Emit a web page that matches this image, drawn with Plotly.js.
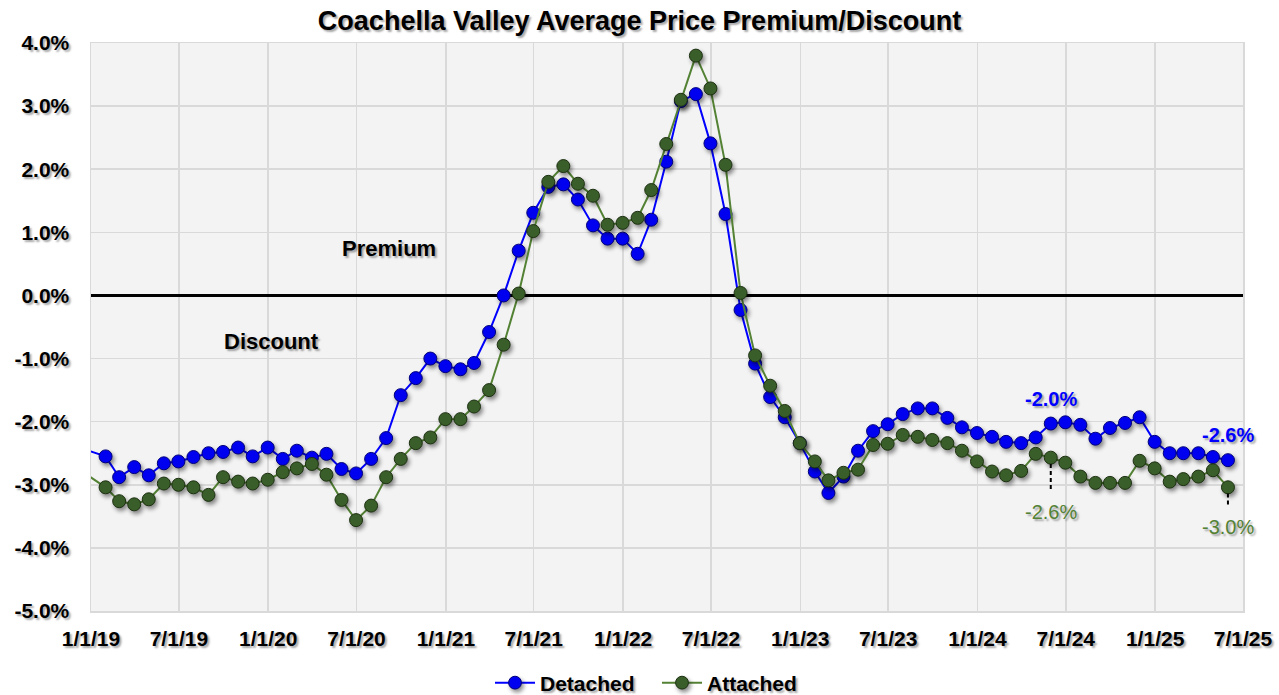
<!DOCTYPE html>
<html>
<head>
<meta charset="utf-8">
<script src="https://cdn.plot.ly/plotly-3.0.1.min.js"></script>
<style>
  html, body { margin: 0; padding: 0; background: #ffffff; }
  #chart { width: 1279px; height: 695px; }
  .scatterlayer .trace .points path,
  .legend .legendpoints path.scatterpts {
    filter: drop-shadow(2px 3px 2px rgba(0,0,0,0.45));
  }
</style>
</head>
<body>
<div id="chart"></div>
<script>
// Month-end observation dates (first one lies just before the axis start and is clipped)
const dates = [
  "2018-12-31",
  "2019-01-31","2019-02-28","2019-03-31","2019-04-30","2019-05-31","2019-06-30",
  "2019-07-31","2019-08-31","2019-09-30","2019-10-31","2019-11-30","2019-12-31",
  "2020-01-31","2020-02-29","2020-03-31","2020-04-30","2020-05-31","2020-06-30",
  "2020-07-31","2020-08-31","2020-09-30","2020-10-31","2020-11-30","2020-12-31",
  "2021-01-31","2021-02-28","2021-03-31","2021-04-30","2021-05-31","2021-06-30",
  "2021-07-31","2021-08-31","2021-09-30","2021-10-31","2021-11-30","2021-12-31",
  "2022-01-31","2022-02-28","2022-03-31","2022-04-30","2022-05-31","2022-06-30",
  "2022-07-31","2022-08-31","2022-09-30","2022-10-31","2022-11-30","2022-12-31",
  "2023-01-31","2023-02-28","2023-03-31","2023-04-30","2023-05-31","2023-06-30",
  "2023-07-31","2023-08-31","2023-09-30","2023-10-31","2023-11-30","2023-12-31",
  "2024-01-31","2024-02-29","2024-03-31","2024-04-30","2024-05-31","2024-06-30",
  "2024-07-31","2024-08-31","2024-09-30","2024-10-31","2024-11-30","2024-12-31",
  "2025-01-31","2025-02-28","2025-03-31","2025-04-30","2025-05-31"
];

// Detached premium/discount (%)
const detached = [
  -2.47,
  -2.55, -2.88, -2.72, -2.85, -2.66, -2.63, -2.56, -2.50, -2.48, -2.41, -2.55, -2.41,
  -2.59, -2.46, -2.57, -2.51, -2.75, -2.82, -2.59, -2.26, -1.58, -1.31, -1.00, -1.12,
  -1.17, -1.07, -0.58,  0.00,  0.71,  1.31,  1.72,  1.76,  1.52,  1.11,  0.90,  0.90,
   0.66,  1.20,  2.12,  3.08,  3.19,  2.41,  1.29, -0.23, -1.08, -1.61, -1.93, -2.34,
  -2.79, -3.13, -2.87, -2.46, -2.15, -2.04, -1.88, -1.79, -1.79, -1.94, -2.09, -2.18,
  -2.24, -2.32, -2.34, -2.25, -2.03, -2.01, -2.05, -2.27, -2.10, -2.02, -1.93, -2.32,
  -2.50, -2.50, -2.50, -2.56, -2.61
];

// Attached premium/discount (%)
const attached = [
  -2.88,
  -3.04, -3.26, -3.31, -3.23, -2.98, -3.00, -3.04, -3.16, -2.88, -2.95, -2.98, -2.92,
  -2.80, -2.74, -2.67, -2.84, -3.24, -3.56, -3.33, -2.88, -2.59, -2.34, -2.25, -1.96,
  -1.96, -1.76, -1.50, -0.78,  0.03,  1.02,  1.80,  2.05,  1.77,  1.58,  1.12,  1.15,
   1.23,  1.67,  2.40,  3.10,  3.80,  3.28,  2.07,  0.04, -0.95, -1.43, -1.83, -2.34,
  -2.63, -2.93, -2.81, -2.76, -2.37, -2.35, -2.21, -2.24, -2.29, -2.34, -2.46, -2.63,
  -2.79, -2.85, -2.78, -2.51, -2.57, -2.65, -2.87, -2.97, -2.97, -2.97, -2.62, -2.74,
  -2.95, -2.91, -2.87, -2.77, -3.04
];

const xTickVals = ["2019-01-01","2019-07-01","2020-01-01","2020-07-01","2021-01-01","2021-07-01",
                   "2022-01-01","2022-07-01","2023-01-01","2023-07-01","2024-01-01","2024-07-01",
                   "2025-01-01","2025-07-01"];
const xTickText = ["1/1/19","7/1/19","1/1/20","7/1/20","1/1/21","7/1/21","1/1/22","7/1/22",
                   "1/1/23","7/1/23","1/1/24","7/1/24","1/1/25","7/1/25"];
const yTickVals = [-5, -4, -3, -2, -1, 0, 1, 2, 3, 4];
const yTickText = ["-5.0%","-4.0%","-3.0%","-2.0%","-1.0%","0.0%","1.0%","2.0%","3.0%","4.0%"];

const labelDates = ["2024-05-31", "2025-05-31"];

const FONT = "Liberation Sans, Arial, sans-serif";
const SHADOW = "2px 2px 2px rgba(0,0,0,0.35)";

// first (pre-axis) point is drawn only as the line entering from the edge
const sizes = dates.map((d, i) => (i === 0 ? 0 : 13));

const traces = [
  {
    type: "scatter", mode: "lines+markers", name: "Detached",
    x: dates, y: detached,
    line: { color: "#0000ff", width: 2 },
    marker: { size: sizes, opacity: 1, color: "#0000f0", line: { color: "#00007a", width: 1 } }
  },
  {
    type: "scatter", mode: "lines+markers", name: "Attached",
    x: dates, y: attached,
    line: { color: "#548235", width: 2 },
    marker: { size: sizes, opacity: 1, color: "#3a5e29", line: { color: "#1c3011", width: 1 } }
  }
];

const annotations = [
  { x: "2020-09-05", y: 0.74, xref: "x", yref: "y", text: "Premium", showarrow: false,
    font: { family: FONT, size: 22, color: "#000", weight: "bold", shadow: SHADOW } },
  { x: "2020-01-08", y: -0.73, xref: "x", yref: "y", text: "Discount", showarrow: false,
    font: { family: FONT, size: 22, color: "#000", weight: "bold", shadow: SHADOW } }
];
const shapes = [];
const greenShift = [-54, -40];
const dashLen = [0.54, 0.32];
labelDates.forEach((d, k) => {
  const i = dates.indexOf(d);
  annotations.push({
    x: d, y: detached[i], xref: "x", yref: "y", yshift: 25, showarrow: false,
    text: detached[i].toFixed(1) + "%",
    font: { family: FONT, size: 20, color: "#0000ff", weight: "bold", shadow: SHADOW }
  });
  annotations.push({
    x: d, y: attached[i], xref: "x", yref: "y", yshift: greenShift[k], showarrow: false,
    text: attached[i].toFixed(1) + "%",
    font: { family: FONT, size: 20, color: "#548235", shadow: SHADOW }
  });
  shapes.push({
    type: "line", xref: "x", yref: "y", x0: d, x1: d,
    y0: attached[i] - 0.1, y1: attached[i] - dashLen[k],
    line: { color: "#000", width: 2, dash: "4px,3px" }
  });
});

const layout = {
  width: 1279, height: 695,
  margin: { l: 91, r: 36, t: 43, b: 84, autoexpand: false },
  paper_bgcolor: "#ffffff",
  plot_bgcolor: "#f3f3f3",
  title: {
    text: "Coachella Valley Average Price Premium/Discount",
    x: 0.5, xref: "container", xanchor: "center",
    y: 1 - 21 / 695, yref: "container", yanchor: "middle",
    font: { family: FONT, size: 27, color: "#000", weight: "bold", shadow: SHADOW }
  },
  xaxis: {
    type: "date",
    range: ["2019-01-01", "2025-07-01"],
    tickmode: "array", tickvals: xTickVals, ticktext: xTickText,
    showgrid: true, gridcolor: "#d9d9d9", gridwidth: 1.5,
    showline: true, linecolor: "#d9d9d9", linewidth: 1.5, mirror: true,
    ticks: "", ticklabelstandoff: 8, automargin: false,
    tickfont: { family: FONT, size: 21, color: "#000", weight: "bold", shadow: SHADOW },
    zeroline: false, fixedrange: true
  },
  yaxis: {
    range: [-5, 4],
    tickmode: "array", tickvals: yTickVals, ticktext: yTickText,
    showgrid: true, gridcolor: "#d9d9d9", gridwidth: 1.5,
    showline: true, linecolor: "#d9d9d9", linewidth: 1.5, mirror: true,
    zeroline: true, zerolinecolor: "#000000", zerolinewidth: 3,
    ticks: "", ticklabelstandoff: 16, automargin: false,
    tickfont: { family: FONT, size: 21, color: "#000", weight: "bold", shadow: SHADOW },
    fixedrange: true
  },
  showlegend: true,
  legend: {
    orientation: "h",
    xref: "container", x: 657 / 1279, xanchor: "center",
    yref: "container", y: 1 - 683 / 695, yanchor: "middle",
    itemwidth: 40, entrywidth: 112,
    font: { family: FONT, size: 21, color: "#000", weight: "bold", shadow: SHADOW },
    bgcolor: "rgba(0,0,0,0)"
  },
  annotations: annotations,
  shapes: shapes
};

Plotly.newPlot("chart", traces, layout, { displayModeBar: false, staticPlot: true });
</script>
</body>
</html>
